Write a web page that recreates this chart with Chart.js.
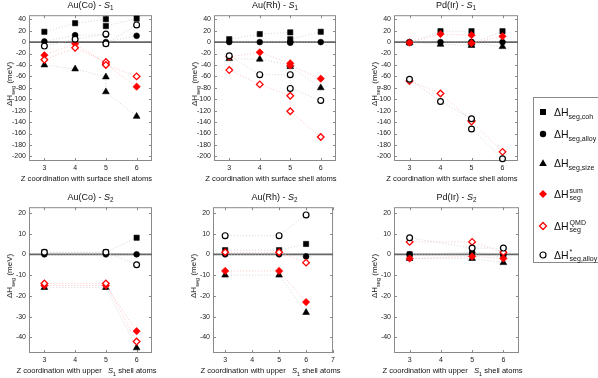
<!DOCTYPE html>
<html>
<head>
<meta charset="utf-8">
<script src="https://cdn.jsdelivr.net/npm/chart.js@4/dist/chart.umd.min.js"></script>
<style>
  body { margin: 0; background: #fff; width: 598px; height: 378px; position: relative; overflow: hidden;
         font-family: 'Liberation Sans', Arial, sans-serif; color: #111; }
  canvas { position: absolute; }
  .lbl { position: absolute; white-space: nowrap; transform: translate(-50%, -50%); line-height: 1; }
  .ttl { font-size: 9px; }
  .xt { font-size: 7.6px; }
  .yt { font-size: 8px; transform: translate(-50%, -50%) rotate(-90deg); }
  sub, sup { font-size: 70%; line-height: 0; }
  #legend { position: absolute; left: 533px; top: 97px; width: 70px; height: 166px; border: 1px solid #8a8a8a;
            box-sizing: border-box; background: #fff; }
  .item { position: absolute; left: 4px; display: flex; align-items: center; transform: translateY(-50%); }
  .item svg { width: 10px; height: 10px; margin-right: 6px; }
  .item .t { font-size: 10.5px; }
  .item .t sub { font-size: 7px; }
  .ss { display: inline-block; vertical-align: middle; font-size: 7px; line-height: 7px; margin-left: 1px; }
</style>
</head>
<body>
<script>
// x positions (Z coordination); Z = 5 holds two sites
const zS1 = [3, 4, 5, 5, 6];
const zS2 = [3, 5, 6];
const xTicksS1 = [3, 4, 5, 6];
const xTicksS2 = [3, 4, 5, 6];
const xTicksS2b = [3, 4, 5, 6, 7];
const yTicksS1 = [40, 20, 0, -20, -40, -60, -80, -100, -120, -140, -160, -180, -200];
const yTicksS2 = [20, 10, 0, -10, -20, -30, -40];

// Au(Co) - S1
const auCoS1Coh = [18, 33, 40, 28, 41];
const auCoS1Alloy = [1, 12, 13, 0, 11];
const auCoS1Size = [-40, -47, -61, -87, -130];
const auCoS1Sum = [-23, -3, -37, -39, -78];
const auCoS1Qmd = [-31, -10, -35, -40, -60];
const auCoS1AlloyStar = [-7, 5, 14, -3, 30];

// Au(Rh) - S1
const auRhS1Coh = [5, 14, 17, 5, 18];
const auRhS1Alloy = [0, 0, 0, -1, 0];
const auRhS1Size = [-29, -30, -40, -43, -80];
const auRhS1Sum = [-26, -18, -37, -41, -64];
const auRhS1Qmd = [-49, -74, -94, -121, -166];
const auRhS1AlloyStar = [-24, -57, -57, -81, -102];

// Pd(Ir) - S1
const pdIrS1Coh = [-1, 19, 19, -3, 19];
const pdIrS1Alloy = [0, 0, 0, 0, 0];
const pdIrS1Size = [-1, -4, -6, -1, -8];
const pdIrS1Sum = [-1, 14, 12, -2, 10];
const pdIrS1Qmd = [-68, -90, -137, -139, -192];
const pdIrS1AlloyStar = [-65, -104, -134, -152, -204];

// Au(Co) - S2
const auCoS2Coh = [1, 1, 8];
const auCoS2Alloy = [0, 0, 0];
const auCoS2Size = [-16, -16, -45];
const auCoS2Sum = [-15, -15, -37];
const auCoS2Qmd = [-14, -14, -42];
const auCoS2AlloyStar = [1, 1, -5];

// Au(Rh) - S2
const auRhS2Coh = [2, 2, 5];
const auRhS2Alloy = [0, 0, -1];
const auRhS2Size = [-10, -10, -28];
const auRhS2Sum = [-8, -8, -23];
const auRhS2Qmd = [1, 1, -4];
const auRhS2AlloyStar = [9, 9, 19];

// Pd(Ir) - S2
const pdIrS2Coh = [0, 0, -1];
const pdIrS2Alloy = [0, 1, 0];
const pdIrS2Size = [-2, -2, -4];
const pdIrS2Sum = [-2, -1, -2];
const pdIrS2Qmd = [6, 6, 1];
const pdIrS2AlloyStar = [8, 3, 3];

const series = [
  { pointStyle: 'rect', r: 3.7, fill: '#000', stroke: '#000', bw: 0.6, line: '#c4c4c4' },
  { pointStyle: 'circle', r: 2.9, fill: '#000', stroke: '#000', bw: 0.6, line: '#c4c4c4' },
  { pointStyle: 'triangle', r: 3.9, fill: '#000', stroke: '#000', bw: 0.6, line: '#c4c4c4' },
  { pointStyle: 'rectRot', r: 3.6, fill: '#ff0000', stroke: '#ff0000', bw: 0.8, line: '#ffaaaa' },
  { pointStyle: 'rectRot', r: 3.3, fill: '#fff', stroke: '#ff0000', bw: 1.3, line: '#ffaaaa' },
  { pointStyle: 'circle', r: 2.9, fill: '#fff', stroke: '#000', bw: 1.2, line: '#c4c4c4' },
];

const panels = [
  { box: [29, 11, 123, 150], xr: [2.5, 6.5], xt: xTicksS1, yr: [-208, 47], yt: yTicksS1, z: zS1,
    title: 'Au(Co) - <i>S</i><sub>1</sub>', xtitle: 'Z coordination with surface shell atoms',
    data: [auCoS1Coh, auCoS1Alloy, auCoS1Size, auCoS1Sum, auCoS1Qmd, auCoS1AlloyStar] },
  { box: [214, 11, 122, 150], xr: [2.5, 6.5], xt: xTicksS1, yr: [-208, 47], yt: yTicksS1, z: zS1,
    title: 'Au(Rh) - <i>S</i><sub>1</sub>', xtitle: 'Z coordination with surface shell atoms',
    data: [auRhS1Coh, auRhS1Alloy, auRhS1Size, auRhS1Sum, auRhS1Qmd, auRhS1AlloyStar] },
  { box: [394, 11, 124, 150], xr: [2.5, 6.5], xt: xTicksS1, yr: [-208, 47], yt: yTicksS1, z: zS1,
    title: 'Pd(Ir) - <i>S</i><sub>1</sub>', xtitle: 'Z coordination with surface shell atoms',
    data: [pdIrS1Coh, pdIrS1Alloy, pdIrS1Size, pdIrS1Sum, pdIrS1Qmd, pdIrS1AlloyStar] },
  { box: [29, 203, 123, 150], xr: [2.5, 6.5], xt: xTicksS2, yr: [-47.5, 22.7], yt: yTicksS2, z: zS2,
    title: 'Au(Co) - <i>S</i><sub>2</sub>', xtitle: 'Z coordination with upper&nbsp;&nbsp; <i>S</i><sub>1</sub> shell atoms',
    data: [auCoS2Coh, auCoS2Alloy, auCoS2Size, auCoS2Sum, auCoS2Qmd, auCoS2AlloyStar] },
  { box: [213, 203, 123, 150], xr: [2.55, 7], xt: xTicksS2b, yr: [-47.5, 22.7], yt: yTicksS2, z: zS2,
    title: 'Au(Rh) - <i>S</i><sub>2</sub>', xtitle: 'Z coordination with upper&nbsp;&nbsp; <i>S</i><sub>1</sub> shell atoms',
    data: [auRhS2Coh, auRhS2Alloy, auRhS2Size, auRhS2Sum, auRhS2Qmd, auRhS2AlloyStar] },
  { box: [394, 203, 125, 150], xr: [2.5, 6.5], xt: xTicksS2, yr: [-47.5, 22.7], yt: yTicksS2, z: zS2,
    title: 'Pd(Ir) - <i>S</i><sub>2</sub>', xtitle: 'Z coordination with upper&nbsp;&nbsp; <i>S</i><sub>1</sub> shell atoms',
    data: [pdIrS2Coh, pdIrS2Alloy, pdIrS2Size, pdIrS2Sum, pdIrS2Qmd, pdIrS2AlloyStar] },
];

const framePlugin = {
  id: 'frame',
  beforeDatasetsDraw(chart) {
    const { ctx, chartArea: a, scales: { x, y } } = chart;
    ctx.save();
    ctx.strokeStyle = '#8a8a8a';
    ctx.lineWidth = 1;
    ctx.strokeRect(a.left + 0.5, a.top + 0.5, a.width - 1, a.height - 1);
    ctx.beginPath();
    y.ticks.forEach(t => {
      const p = Math.round(y.getPixelForValue(t.value)) + 0.5;
      ctx.moveTo(a.left, p); ctx.lineTo(a.left + 3, p);
      ctx.moveTo(a.right, p); ctx.lineTo(a.right - 3, p);
    });
    x.ticks.forEach(t => {
      const p = Math.round(x.getPixelForValue(t.value)) + 0.5;
      ctx.moveTo(p, a.bottom); ctx.lineTo(p, a.bottom - 3);
      ctx.moveTo(p, a.top); ctx.lineTo(p, a.top + 3);
    });
    ctx.stroke();
    const y0 = y.getPixelForValue(0);
    ctx.strokeStyle = '#666';
    ctx.lineWidth = 1.8;
    ctx.beginPath(); ctx.moveTo(a.left, y0); ctx.lineTo(a.right, y0); ctx.stroke();
    ctx.restore();
  }
};

function addLabel(html, cls, cx, cy) {
  const d = document.createElement('div');
  d.className = 'lbl ' + cls;
  d.innerHTML = html;
  d.style.left = cx + 'px';
  d.style.top = cy + 'px';
  document.body.appendChild(d);
}

const YW = 29, XH = 14, PT = 3, PR = 2;

panels.forEach(p => {
  const [l, t, w, h] = p.box;
  const cv = document.createElement('canvas');
  cv.width = w + YW + PR;
  cv.height = h + PT + XH;
  cv.style.left = (l - YW) + 'px';
  cv.style.top = (t - PT) + 'px';
  document.body.appendChild(cv);

  new Chart(cv, {
    type: 'line',
    data: {
      datasets: series.map((s, i) => ({
        data: p.data[i].map((v, k) => ({ x: p.z[k], y: v })),
        order: series.length - i,
        showLine: true,
        borderColor: s.line,
        borderWidth: 0.7,
        borderDash: [1, 2],
        pointStyle: s.pointStyle,
        pointRadius: s.r,
        pointBackgroundColor: s.fill,
        pointBorderColor: s.stroke,
        pointBorderWidth: s.bw,
        clip: false,
      })),
    },
    options: {
      responsive: false,
      animation: false,
      events: [],
      layout: { autoPadding: false, padding: { left: 0, right: PR, top: PT, bottom: 0 } },
      plugins: { legend: { display: false }, tooltip: { enabled: false } },
      scales: {
        x: {
          type: 'linear', min: p.xr[0], max: p.xr[1],
          afterBuildTicks: sc => { sc.ticks = p.xt.map(v => ({ value: v })); },
          afterFit: sc => { sc.height = XH; },
          grid: { display: false, drawTicks: false }, border: { display: false },
          ticks: { font: { size: 7, family: "'Liberation Sans', Arial" }, color: '#222', padding: 3, maxRotation: 0, autoSkip: false },
        },
        y: {
          type: 'linear', min: p.yr[0], max: p.yr[1],
          afterBuildTicks: sc => { sc.ticks = p.yt.map(v => ({ value: v })); },
          afterFit: sc => { sc.width = YW; },
          grid: { display: false, drawTicks: false }, border: { display: false },
          ticks: { font: { size: 7, family: "'Liberation Sans', Arial" }, color: '#222', padding: 3, autoSkip: false },
        },
      },
    },
    plugins: [framePlugin],
  });

  addLabel(p.title, 'ttl', l + w / 2, t - 6);
  addLabel(p.xtitle, 'xt', l + w / 2 - 4, t + h + 18);
  addLabel('ΔH<sub>seg</sub> (meV)', 'yt', l - 19, t + h / 2 - 2);
});
</script>
<div id="legend">
  <div class="item" style="top:14px"><svg viewBox="0 0 10 10"><rect x="2" y="2" width="6" height="6" fill="#000"/></svg><span class="t">ΔH<sub>seg,coh</sub></span></div>
  <div class="item" style="top:36px"><svg viewBox="0 0 10 10"><circle cx="5" cy="5" r="3.2" fill="#000"/></svg><span class="t">ΔH<sub>seg,alloy</sub></span></div>
  <div class="item" style="top:65px"><svg viewBox="0 0 10 10"><polygon points="5,1.3 8.8,8 1.2,8" fill="#000"/></svg><span class="t">ΔH<sub>seg,size</sub></span></div>
  <div class="item" style="top:96px"><svg viewBox="0 0 10 10"><polygon points="5,1 9,5 5,9 1,5" fill="#f00"/></svg><span class="t">ΔH</span><span class="ss">sum<br>seg</span></div>
  <div class="item" style="top:128px"><svg viewBox="0 0 10 10"><polygon points="5,1.5 8.5,5 5,8.5 1.5,5" fill="#fff" stroke="#f00" stroke-width="1.3"/></svg><span class="t">ΔH</span><span class="ss">QMD<br>seg</span></div>
  <div class="item" style="top:157px"><svg viewBox="0 0 10 10"><circle cx="5" cy="5" r="3" fill="#fff" stroke="#000" stroke-width="1.2"/></svg><span class="t">ΔH</span><span class="ss">*<br>seg,alloy</span></div>
</div>
</body>
</html>
